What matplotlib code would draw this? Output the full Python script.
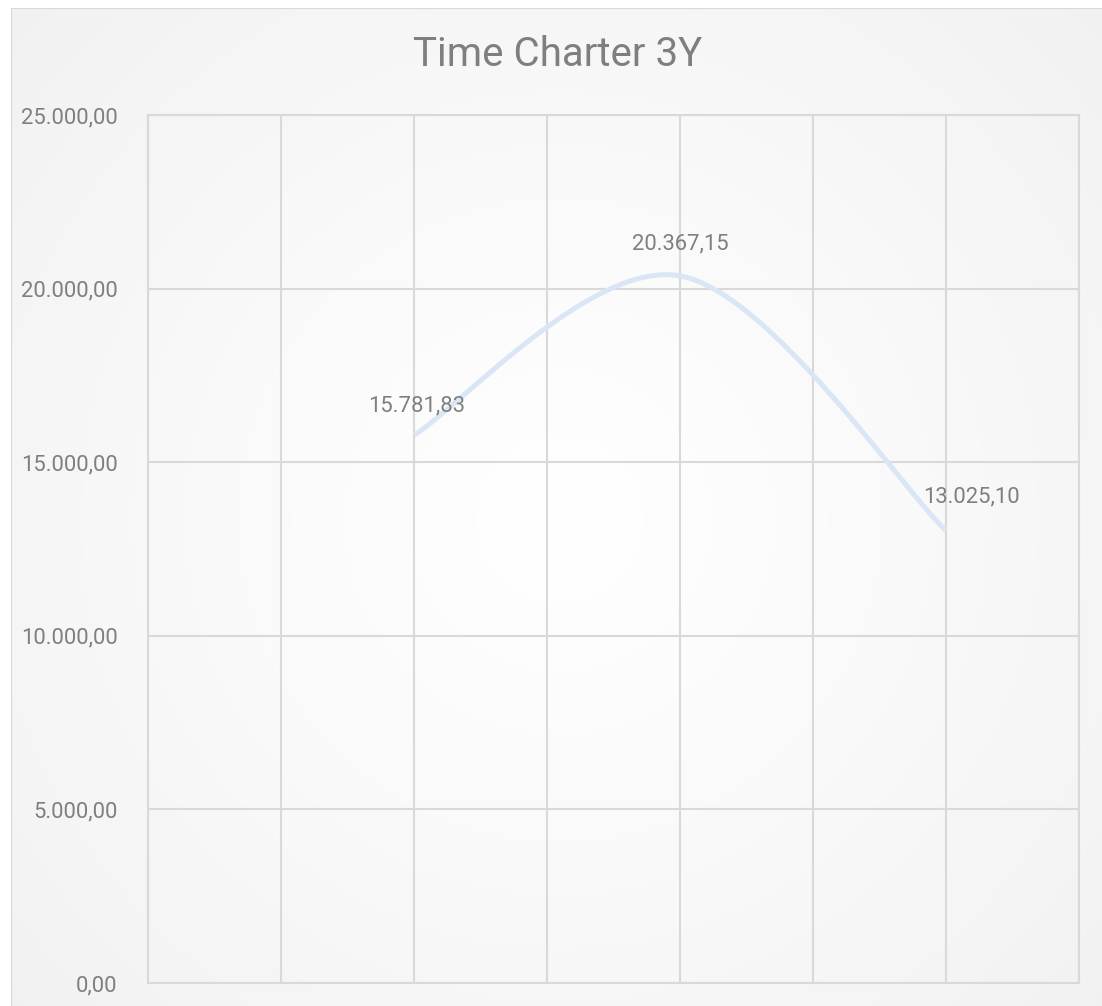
import matplotlib.pyplot as plt
import numpy as np
from matplotlib.path import Path
from matplotlib.patches import PathPatch, Rectangle

plt.rcParams['font.family'] = ['Roboto', 'DejaVu Sans']

# category slots on the x axis, only three of them carry a value
slots = [0, 1, 2, 3, 4, 5, 6, 7]
values = [None, None, 15781.83, None, 20367.15, None, 13025.10, None]
labels = ['15.781,83', '20.367,15', '13.025,10']
label_offsets = [(2, 21), (0, 23), (18, 24)]
yticks = [0, 5000, 10000, 15000, 20000, 25000]
title = 'Time Charter 3Y'

grey_txt = '#7f7f7f'
grid_col = '#d9d9d9'
line_col = '#dae6f5'


def fmt(v):
    s = '{:,.2f}'.format(v)
    return s.replace(',', ' ').replace('.', ',').replace(' ', '.')


def smooth_path(xs, ys):
    # bezier through the points, catmull-rom style tangents (1/6)
    pts = np.column_stack([xs, ys])
    n = len(pts)
    verts = [pts[0]]
    codes = [Path.MOVETO]
    for i in range(n - 1):
        p0 = pts[max(i - 1, 0)]
        p1 = pts[i]
        p2 = pts[i + 1]
        p3 = pts[min(i + 2, n - 1)]
        c1 = p1 + (p2 - p0) / 6.0
        c2 = p2 - (p3 - p1) / 6.0
        verts += [c1, c2, p2]
        codes += [Path.CURVE4] * 3
    return Path(verts, codes)


W, H = 1102, 1006
fig = plt.figure(figsize=(W / 100, H / 100), dpi=100)

# background with soft radial shading
bg = fig.add_axes([0, 0, 1, 1], zorder=-10)
gx, gy = np.meshgrid(np.linspace(0, W, 300), np.linspace(0, H, 300))
r = np.hypot(gx - 560, gy - 520) / np.hypot(560, 520)
shade = 1.0 - 0.055 * np.clip(r, 0, 1) ** 1.2
bg.imshow(np.dstack([shade] * 3), extent=[0, W, H, 0], aspect='auto',
          interpolation='bilinear')
bg.add_patch(Rectangle((11, 8), W + 20, H + 20, fill=False,
                       edgecolor='#d9d9d9', lw=1.5))
bg.add_patch(Rectangle((0, 0), 11, H, color='white', lw=0))
bg.add_patch(Rectangle((0, 0), W, 8, color='white', lw=0))
bg.set_xlim(0, W)
bg.set_ylim(H, 0)
bg.axis('off')

ax = fig.add_axes([148 / W, (H - 983) / H, (1079 - 148) / W, (983 - 115) / H])
ax.patch.set_alpha(0)
ax.set_xlim(slots[0], slots[-1])
ax.set_ylim(yticks[0], yticks[-1])

ax.set_xticks(slots)
ax.set_xticklabels([])
ax.set_yticks(yticks)
ax.set_yticklabels([fmt(v) for v in yticks], color=grey_txt, fontsize=15.8)
ax.tick_params(length=0, pad=22)
ax.grid(True, color=grid_col, lw=1.5)
for s in ax.spines.values():
    s.set_color(grid_col)
    s.set_linewidth(1.5)

xs = [x for x, v in zip(slots, values) if v is not None]
ys = [v for v in values if v is not None]
ax.add_patch(PathPatch(smooth_path(xs, ys), fill=False, edgecolor=line_col,
                       lw=3.6, capstyle='butt', zorder=3))

for x, y, lab, off in zip(xs, ys, labels, label_offsets):
    ax.annotate(lab, (x, y), xytext=off, textcoords='offset points',
                ha='center', va='center', color=grey_txt, fontsize=15.8,
                zorder=4)

fig.text(558 / W, 1 - 54 / H, title, ha='center', va='center',
         color=grey_txt, fontsize=29)

fig.savefig('out.png', dpi=100)
